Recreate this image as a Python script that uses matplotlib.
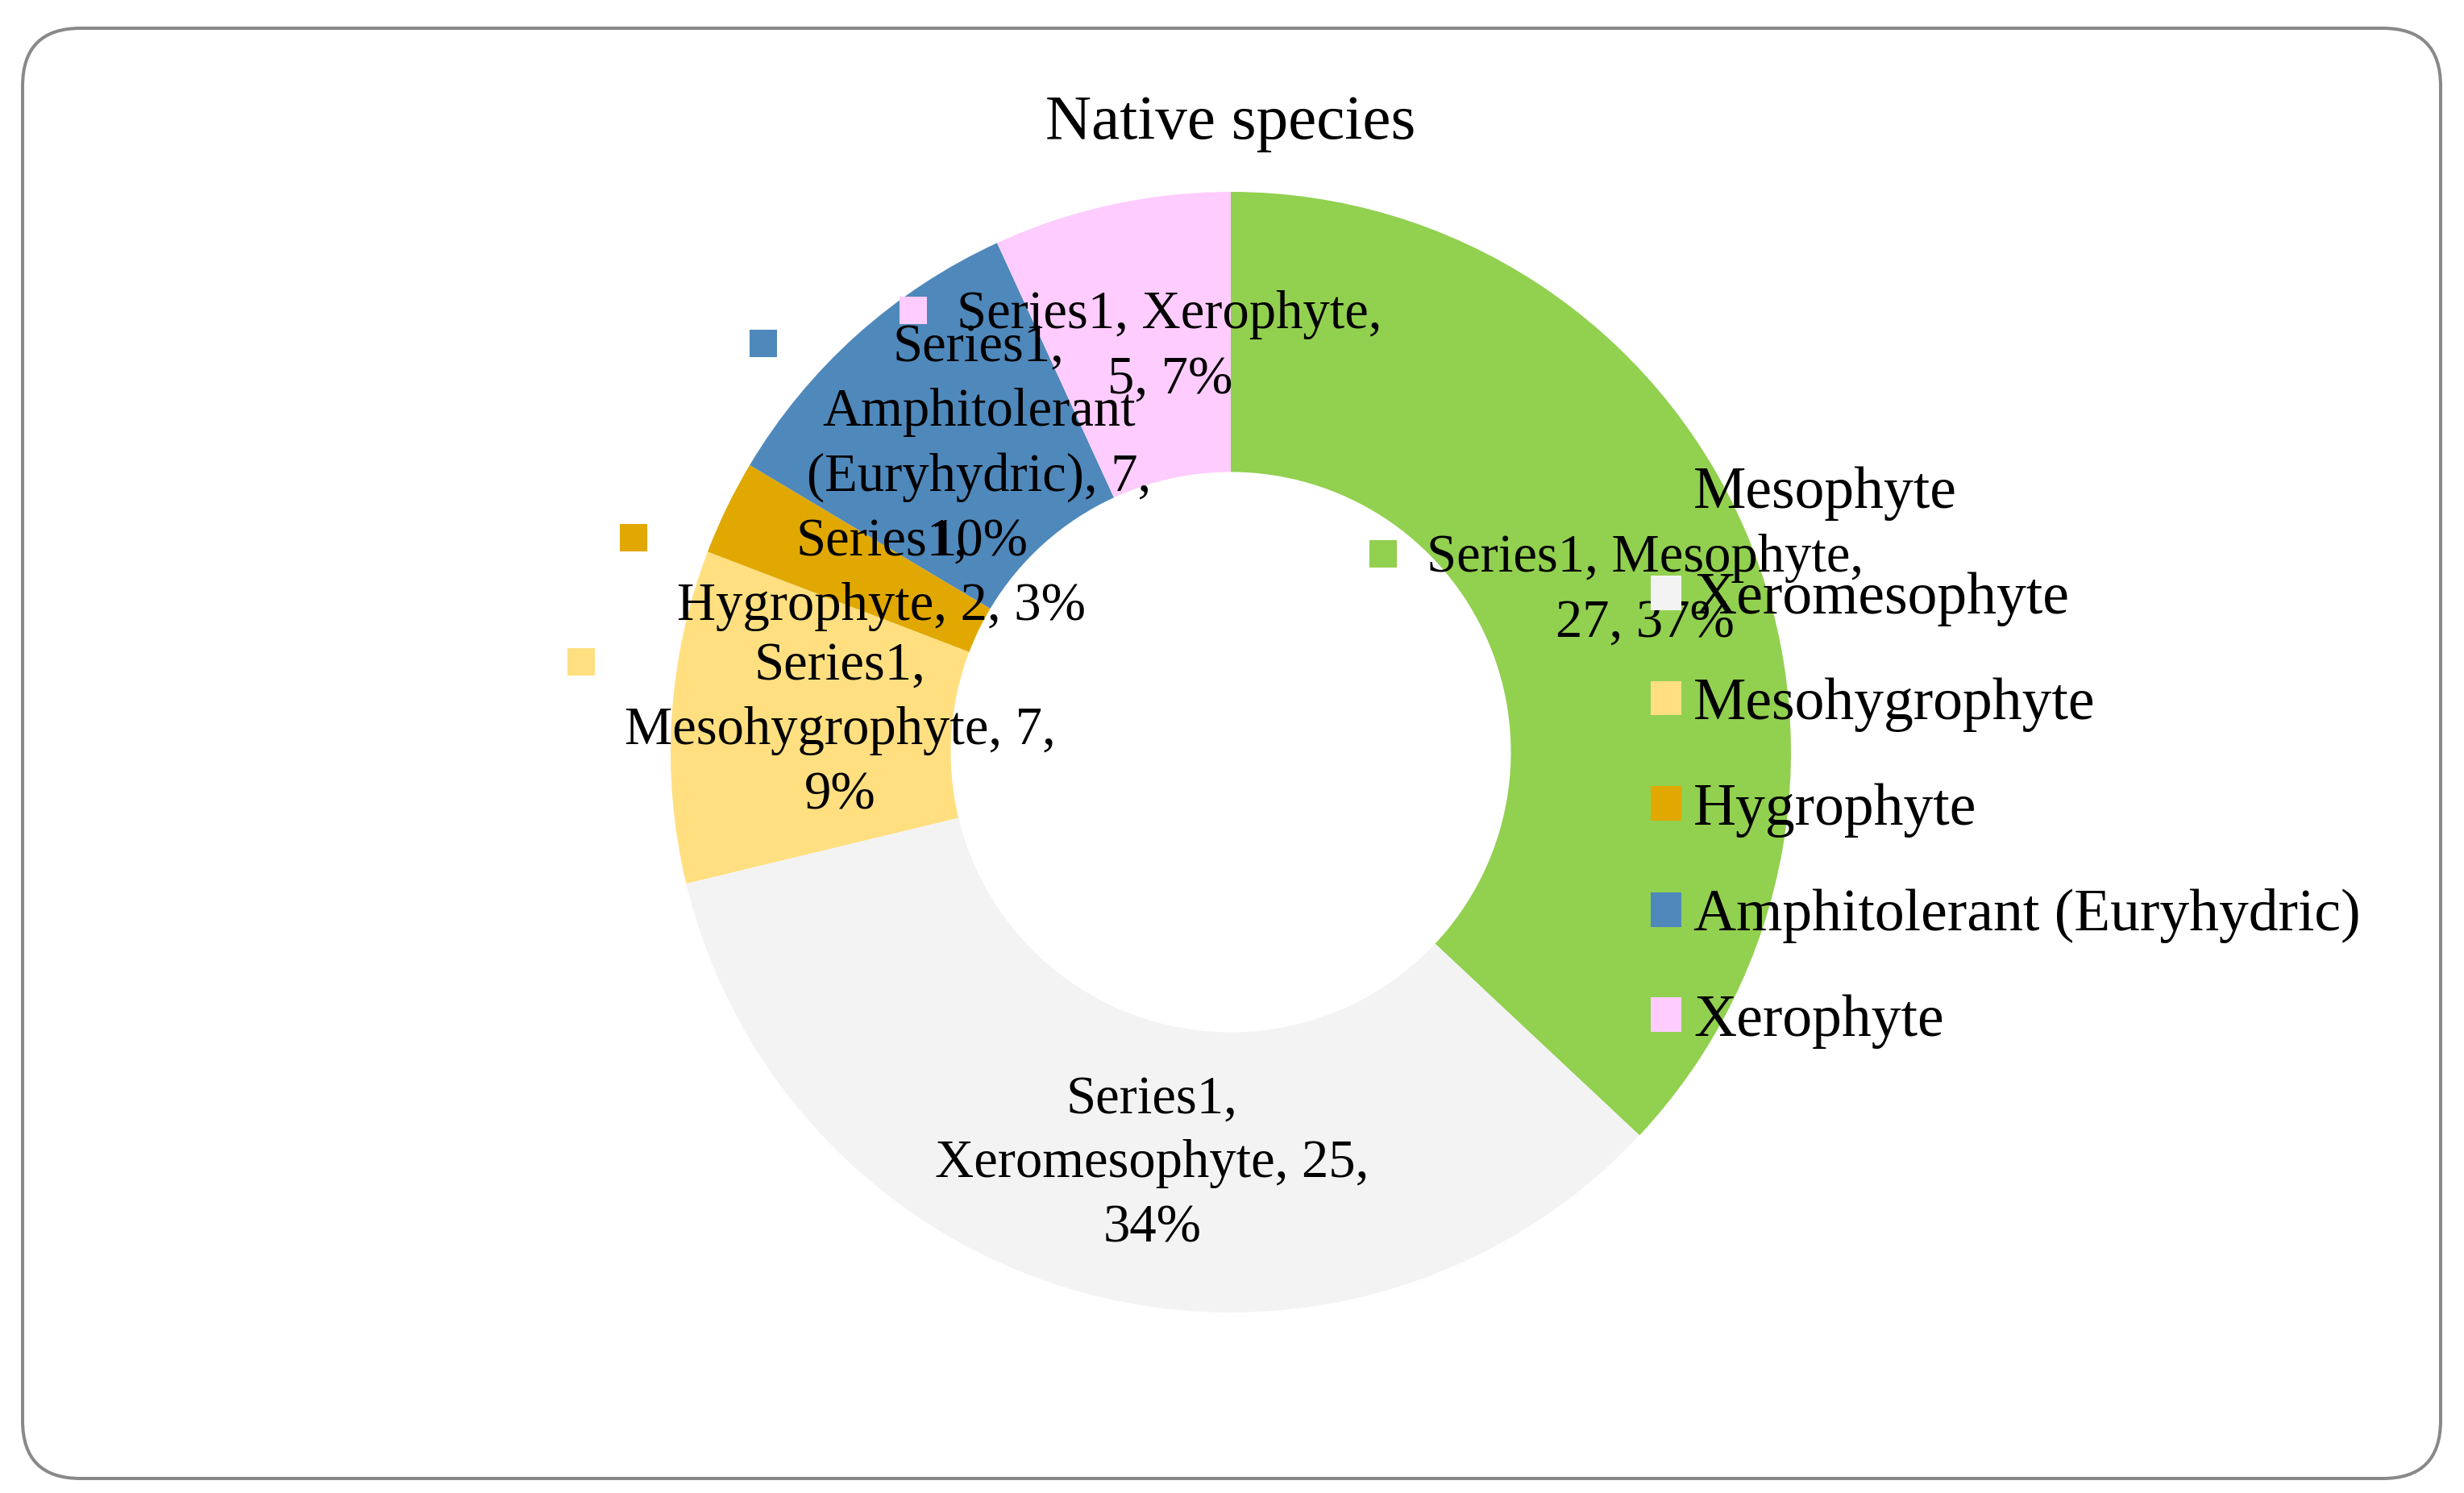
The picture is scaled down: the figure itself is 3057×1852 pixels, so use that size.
import matplotlib
matplotlib.use("Agg")
import numpy as np
import matplotlib.pyplot as plt
from matplotlib.patches import Patch, Rectangle, FancyBboxPatch
from matplotlib.offsetbox import AnnotationBbox, HPacker, TextArea, DrawingArea
from matplotlib.transforms import IdentityTransform

# dados
titulo = "Native species"
serie = "Series1"
categorias = ["Mesophyte", "Xeromesophyte", "Mesohygrophyte", "Hygrophyte",
              "Amphitolerant (Euryhydric)", "Xerophyte"]
valores = [27, 25, 7, 2, 7, 5]
percentuais = [37, 34, 9, 3, 10, 7]
cores = ["#92D050", "#F3F3F3", "#FFDF80", "#E0A800", "#4F88BB", "#FFCCFF"]

# quebras de linha dos rótulos (como no Excel)
modelos = [
    "{s}, {c},\n{v}, {p}%",
    "{s},\n{c}, {v},\n{p}%",
    "{s},\n{c}, {v},\n{p}%",
    "{s},\n{c}, {v}, {p}%",
    "{s},\n{cw}, {v},\n{p}%",
    "{s}, {c},\n{v}, {p}%",
]

W, H = 3057, 1852
fig = plt.figure(figsize=(W / 100, H / 100), dpi=100)
fonte = "Liberation Serif"

# moldura arredondada
moldura = FancyBboxPatch((28, 18), 3000, 1799, boxstyle="round,pad=0,rounding_size=72",
                         transform=IdentityTransform(), facecolor="white",
                         edgecolor="#898989", linewidth=2.9, zorder=-1)
fig.add_artist(moldura)

# rosca
cx, cy, R = 1527, H - 933, 695
ax = fig.add_axes([(cx - R) / W, (cy - R) / H, 2 * R / W, 2 * R / H])
wedges, _ = ax.pie(valores, colors=cores, startangle=90, counterclock=False,
                   radius=1, wedgeprops=dict(width=0.5, linewidth=0))
ax.set_xlim(-1, 1)
ax.set_ylim(-1, 1)
ax.set_aspect("equal")
ax.axis("off")

# rótulos de dados com a chave da legenda
for w, cat, v, p, cor, mod in zip(wedges, categorias, valores, percentuais, cores, modelos):
    ang = np.deg2rad((w.theta1 + w.theta2) / 2)
    xy = (0.75 * np.cos(ang), 0.75 * np.sin(ang) - 0.01)
    txt = mod.format(s=serie, c=cat, cw=cat.replace(" ", "\n"), v=v, p=p)
    da = DrawingArea(24.5, 30.5, 0, 0)
    da.add_artist(Rectangle((0, 0), 24.5, 24.5, facecolor=cor, linewidth=0))
    ta = TextArea(txt, textprops=dict(fontsize=48, family=fonte, multialignment="center",
                                      linespacing=1.41))
    caixa = HPacker(children=[da, ta], align="top", pad=0, sep=26.6)
    ab = AnnotationBbox(caixa, xy, frameon=False, box_alignment=(0.5, 0.5),
                        annotation_clip=False, pad=0)
    ax.add_artist(ab)

# título
fig.text(cx / W, (H - 172) / H, titulo, ha="center", va="baseline",
         fontsize=57, family=fonte)

# legenda
handles = [Patch(facecolor=c, linewidth=0, label=cat) for c, cat in zip(cores, categorias)]
fig.legend(handles=handles, loc="center left", bbox_to_anchor=(2048 / W, (H - 940) / H),
           frameon=False, prop=dict(family=fonte, size=53), handlelength=0.52,
           handleheight=0.52, handletextpad=0.2, labelspacing=0.86, borderpad=0,
           borderaxespad=0)

fig.savefig("out.png", dpi=100)
